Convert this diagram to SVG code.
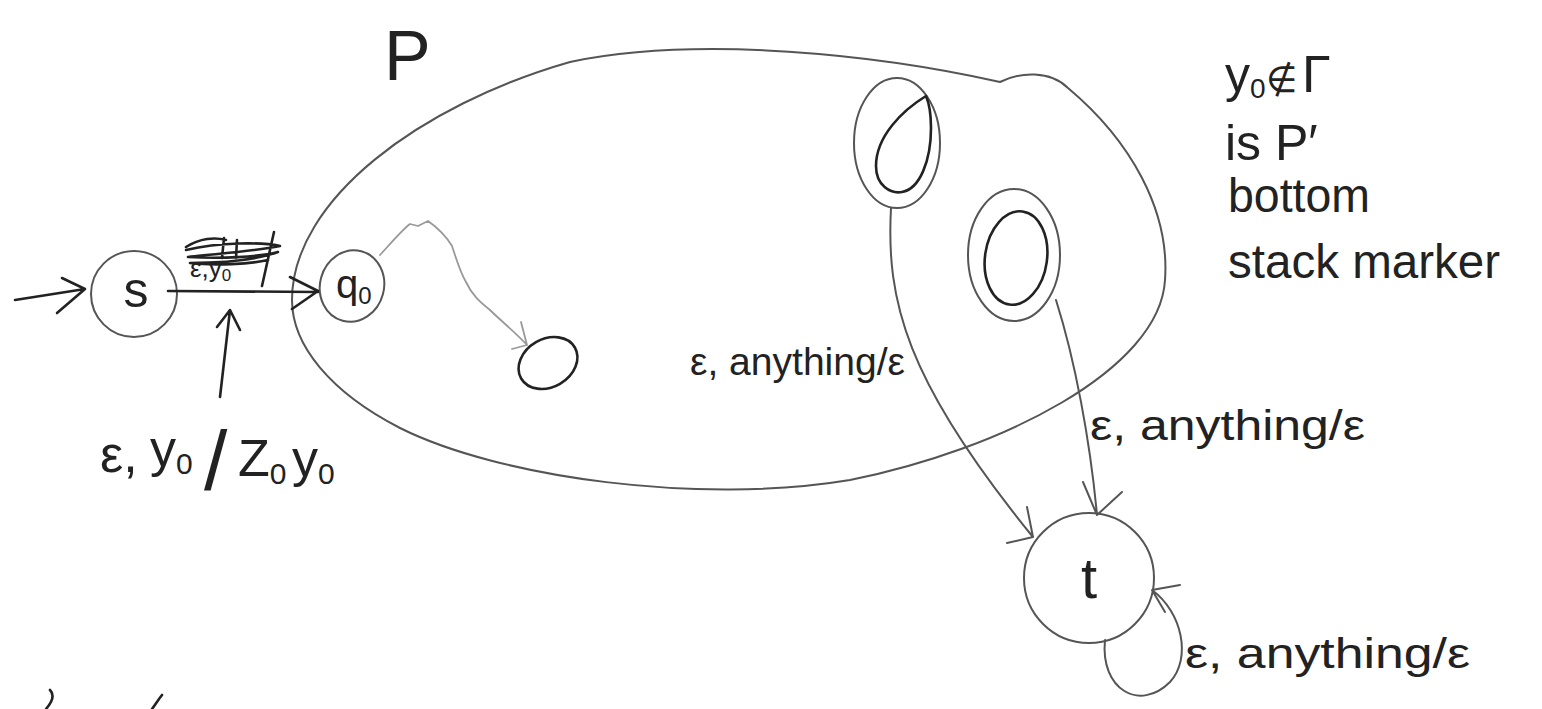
<svg xmlns="http://www.w3.org/2000/svg" width="1542" height="709" viewBox="0 0 1542 709">
<style>
.t{font-family:"Liberation Sans","DejaVu Sans",sans-serif;fill:#222}
.thin{fill:none;stroke:#555;stroke-width:2;stroke-linecap:round;stroke-linejoin:round}
.dark{fill:none;stroke:#222;stroke-width:2.6;stroke-linecap:round;stroke-linejoin:round}
.light{fill:none;stroke:#999;stroke-width:1.8;stroke-linecap:round;stroke-linejoin:round}
</style>
<rect width="1542" height="709" fill="#fff"/>
<g id="region-P">
<path class="thin" d="M292,300 C292,200 420,105 570,62 C700,35 880,55 1000,82 C1020,72 1050,70 1068,88 C1130,140 1170,210 1165,280 C1160,370 1000,450 850,480 C700,505 500,478 400,428 C330,392 292,345 292,300 Z"/>
<text class="t" x="384" y="80" font-size="70">P</text>
</g>
<g id="node-s">
<circle class="thin" cx="134" cy="294" r="43"/>
<text class="t" x="136" y="307" font-size="50" text-anchor="middle">s</text>
</g>
<g id="node-q0">
<ellipse class="thin" cx="352" cy="286" rx="32" ry="36" transform="rotate(15 352 286)"/>
<text class="t" x="336" y="298" font-size="40">q<tspan font-size="24" dy="6">0</tspan></text>
</g>
<g id="node-q">
<ellipse class="dark" cx="548" cy="363" rx="31" ry="24" transform="rotate(-30 548 363)"/>
</g>
<g id="node-accept1">
<ellipse class="thin" cx="897" cy="143" rx="43" ry="65"/>
<path class="dark" d="M926,96 C903,110 876,136 876,166 C876,186 891,194 902,192 C920,189 931,160 931,128 C931,114 929,103 926,96"/>
</g>
<g id="node-accept2">
<ellipse class="thin" cx="1014" cy="255" rx="46" ry="66"/>
<ellipse class="dark" cx="1016" cy="258" rx="31" ry="47" transform="rotate(8 1016 258)"/>
</g>
<g id="node-t">
<circle class="thin" cx="1089" cy="578" r="65"/>
<text class="t" x="1089" y="598" font-size="58" text-anchor="middle">t</text>
</g>
<g id="connectors">
<path class="dark" d="M15,300 L85,289 M62,278 L85,289 L57,313"/>
<path class="dark" d="M168,291 L318,292 M290,277 L318,291 L292,309" stroke-width="3.2"/>
<path class="dark" d="M220,397 L230,310 M217,327 L230,310 L240,330"/>
<path class="light" d="M380,255 C392,242 402,230 410,224 L418,226 L428,221 C438,228 446,236 452,246 C456,258 460,272 466,282 C472,295 480,302 490,310 C500,320 515,332 527,345 M521,322 L527,345 L512,349"/>
<path class="thin" d="M891,208 C886,300 905,380 1033,537 M1027,507 L1033,537 L1007,543"/>
<path class="thin" d="M1056,300 C1075,360 1090,440 1097,515 M1083,482 L1097,515 L1122,492"/>
<path class="thin" d="M1105,640 C1100,690 1140,712 1170,682 C1192,658 1182,612 1152,590 M1180,585 L1152,590 L1165,612"/>
</g>
<g id="labels">
<text class="t" x="190" y="277" font-size="26">ε,y<tspan font-size="17" dy="4">0</tspan></text>
<path class="dark" d="M186,250 C220,242 262,242 280,246 C250,252 212,254 188,257 C222,259 258,257 278,252 C250,262 214,263 190,263 C215,266 250,264 268,260 M186,247 C200,238 215,237 226,240 M274,232 L262,286 M224,238 L222,258 M237,240 L236,258" stroke-width="2.6"/>
<text class="t" font-size="52"><tspan x="100" y="472">ε,</tspan><tspan x="150" y="466">y</tspan><tspan font-size="30" dy="8">0</tspan><tspan x="204" y="490" font-size="84">/</tspan><tspan x="238" y="476">Z</tspan><tspan font-size="30" dy="8">0</tspan><tspan x="292" y="476">y</tspan><tspan font-size="30" dy="8">0</tspan></text>
<text class="t" x="690" y="375" font-size="38" textLength="215" lengthAdjust="spacingAndGlyphs">ε, anything/ε</text>
<text class="t" x="1090" y="440" font-size="42" textLength="275" lengthAdjust="spacingAndGlyphs">ε, anything/ε</text>
<text class="t" x="1185" y="668" font-size="42" textLength="285" lengthAdjust="spacingAndGlyphs">ε, anything/ε</text>
<text class="t" font-size="50"><tspan x="1225" y="92">y</tspan><tspan font-size="28" dy="6">0</tspan><tspan x="1266" y="92" font-size="36">∉</tspan><tspan x="1302" y="92" font-size="52">Γ</tspan></text>
<text class="t" x="1225" y="160" font-size="50">is P′</text>
<text class="t" x="1228" y="212" font-size="48" textLength="142" lengthAdjust="spacingAndGlyphs">bottom</text>
<text class="t" x="1228" y="278" font-size="48" textLength="272" lengthAdjust="spacingAndGlyphs">stack marker</text>
<path class="dark" d="M50,690 C55,695 52,702 46,709 M162,695 C158,700 155,705 152,709" stroke-width="3"/>
</g>
</svg>
